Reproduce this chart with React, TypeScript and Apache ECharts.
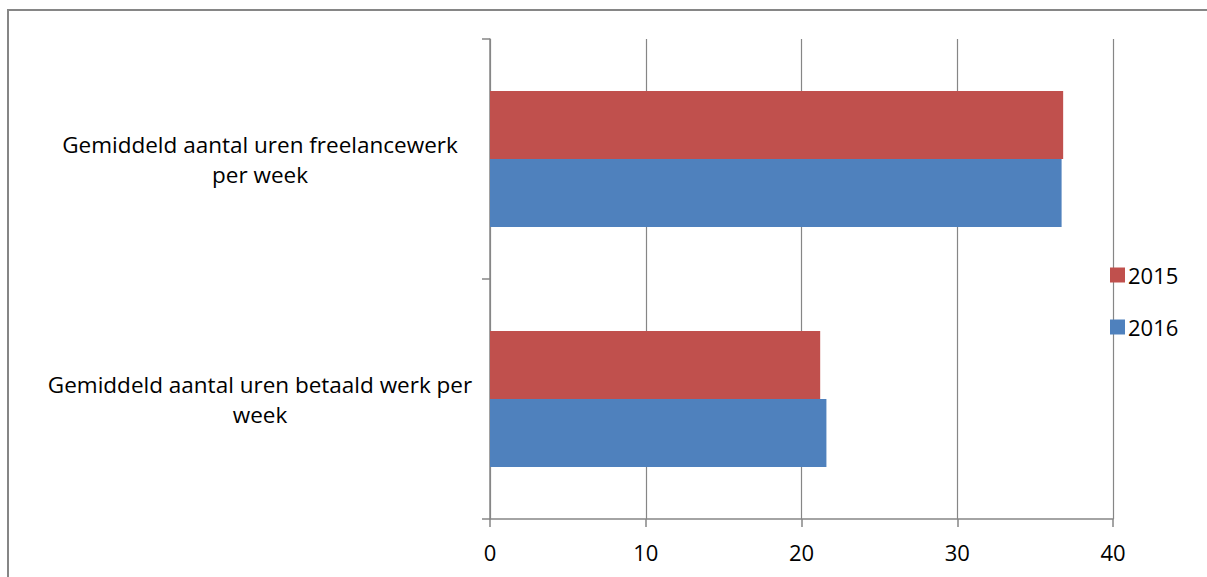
import React, { useEffect, useRef } from "react";
import * as echarts from "echarts";

// Categories, bottom to top as ECharts lays out a category y axis
const categories = [
  "Gemiddeld aantal uren betaald werk per week",
  "Gemiddeld aantal uren freelancewerk per week",
];
// Wrapped display text for each category
const categoryLabels = [
  "Gemiddeld aantal uren betaald werk per\nweek",
  "Gemiddeld aantal uren freelancewerk\nper week",
];
const seriesNames = ["2015", "2016"];
const values2015 = [21.2, 36.8];
const values2016 = [21.6, 36.7];
const xTicks = [0, 10, 20, 30, 40];

const FONT = "'Open Sans', 'Noto Sans', sans-serif";
const AXIS_GRAY = "#868686";

export default function App() {
  const ref = useRef<HTMLDivElement>(null);

  useEffect(() => {
    document.body.style.margin = "0";
    if (!ref.current) return;
    const chart = echarts.init(ref.current, null, { renderer: "svg" });
    chart.setOption({
      animation: false,
      backgroundColor: "#ffffff",
      textStyle: { fontFamily: FONT, color: "#000000" },
      graphic: [
        {
          type: "rect",
          shape: { x: 8, y: 10, width: 1400, height: 800 },
          style: { fill: "none", stroke: AXIS_GRAY, lineWidth: 2 },
          silent: true,
        },
      ],
      legend: {
        orient: "vertical",
        left: 1110,
        top: 264,
        data: seriesNames,
        icon: "rect",
        itemWidth: 15,
        itemHeight: 15,
        itemGap: 30,
        textStyle: {
          fontFamily: FONT,
          fontSize: 22,
          lineHeight: 18,
          color: "#000000",
          padding: [0, 0, 0, -2],
        },
        padding: 0,
      },
      grid: {
        left: 490,
        right: 94,
        top: 39,
        bottom: 58,
        containLabel: false,
      },
      xAxis: {
        type: "value",
        min: xTicks[0],
        max: xTicks[xTicks.length - 1],
        interval: xTicks[1] - xTicks[0],
        axisLine: { show: true, lineStyle: { color: AXIS_GRAY, width: 1.5 } },
        axisTick: { show: true, length: 8, lineStyle: { color: AXIS_GRAY, width: 1.5 } },
        axisLabel: {
          fontFamily: FONT,
          fontSize: 22,
          color: "#000000",
          margin: 22,
        },
        splitLine: { show: true, lineStyle: { color: AXIS_GRAY, width: 1.2 } },
      },
      yAxis: {
        type: "category",
        data: categories,
        axisLine: { show: true, lineStyle: { color: AXIS_GRAY, width: 1.5 } },
        axisTick: {
          show: true,
          length: 8,
          alignWithLabel: false,
          lineStyle: { color: AXIS_GRAY, width: 1.5 },
        },
        axisLabel: {
          fontFamily: FONT,
          fontSize: 22.5,
          lineHeight: 30,
          color: "#000000",
          align: "center",
          margin: 230,
          formatter: (value: string) => categoryLabels[categories.indexOf(value)],
        },
        splitLine: { show: false },
      },
      series: [
        {
          name: seriesNames[0],
          type: "bar",
          data: values2015,
          barWidth: 68,
          barGap: "0%",
          itemStyle: { color: "#C0504D" },
        },
        {
          name: seriesNames[1],
          type: "bar",
          data: values2016,
          barWidth: 68,
          barGap: "0%",
          itemStyle: { color: "#4F81BD" },
        },
      ],
    });
    return () => chart.dispose();
  }, []);

  return <div ref={ref} style={{ width: 1207, height: 577 }} />;
}
